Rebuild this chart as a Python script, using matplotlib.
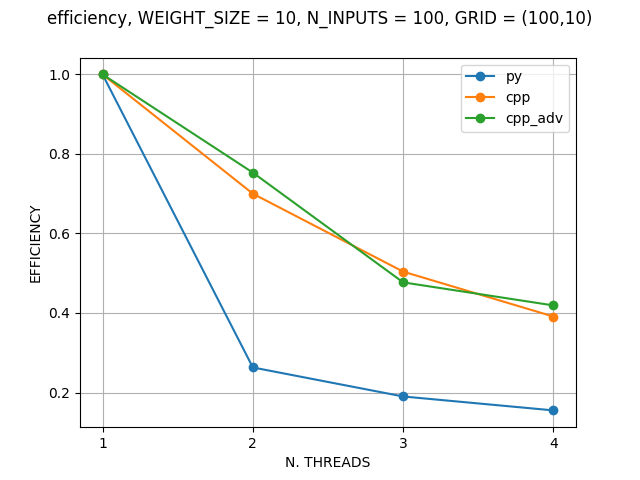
import matplotlib
matplotlib.use("Agg")
import matplotlib.pyplot as plt

threads = [1, 2, 3, 4]
py = [1.0, 0.263, 0.19, 0.155]
cpp = [1.0, 0.70, 0.504, 0.391]
cpp_adv = [1.0, 0.753, 0.477, 0.419]

fig = plt.figure(figsize=(6.4, 4.8), dpi=100)
plt.plot(threads, py, marker='o', label='py')
plt.plot(threads, cpp, marker='o', label='cpp')
plt.plot(threads, cpp_adv, marker='o', label='cpp_adv')
plt.xticks(threads)
plt.xlabel('N. THREADS')
plt.ylabel('EFFICIENCY')
plt.grid(True)
plt.legend()
fig.suptitle('efficiency, WEIGHT_SIZE = 10, N_INPUTS = 100, GRID = (100,10)')
plt.savefig('out.png')
